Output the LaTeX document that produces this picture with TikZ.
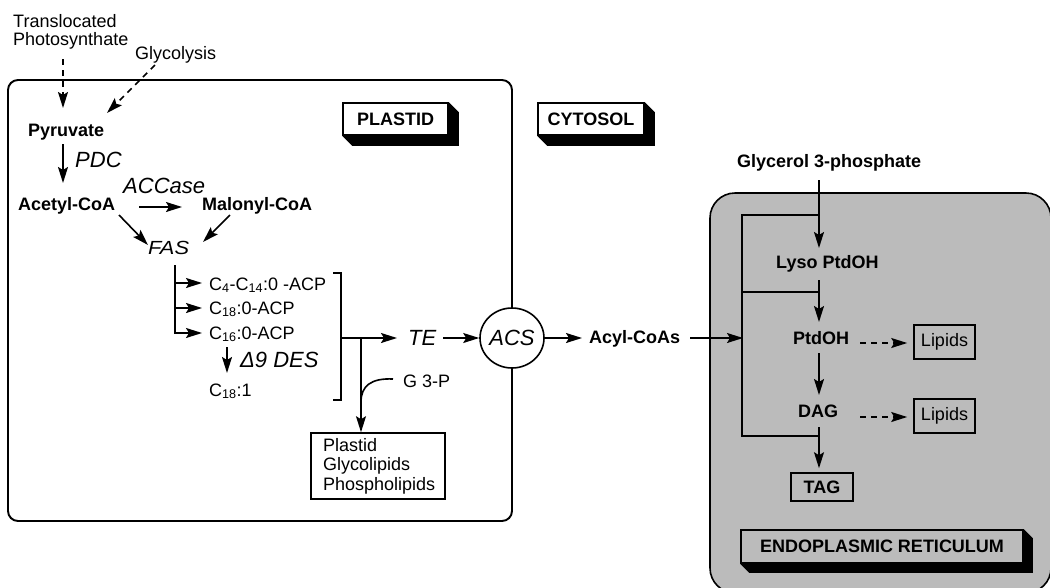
\documentclass[tikz,border=0pt]{standalone}
\usepackage{fontspec}
\setmainfont{Liberation Sans}
\usetikzlibrary{arrows.meta,calc,shapes.geometric}
\definecolor{erg}{RGB}{187,187,187}
\newcommand{\lf}{\fontsize{18}{19.5}\selectfont}
\newcommand{\ef}{\fontsize{22}{24}\selectfont\itshape}
\newcommand{\dropshadow}[2][10]{%
  \fill (#2.north east) -- ++(#1,#1) -- ($(#2.south east)+(#1,#1)$) --
        ($(#2.south west)+(#1,#1)$) -- (#2.south west) -- (#2.south east) -- cycle;}
\begin{document}
\begin{tikzpicture}[x=1pt,y=-1pt,
  lab/.style={inner sep=0pt, anchor=base west, font=\lf},
  blab/.style={inner sep=0pt, anchor=base west, font=\lf\bfseries},
  enz/.style={inner sep=0pt, anchor=base west, font=\ef},
  arr/.style={line width=1.6pt, -{Stealth[length=16pt,width=10pt,inset=3pt]}},
  darr/.style={arr, dash pattern=on 6pt off 5pt},
  ln/.style={line width=1.6pt},
  box/.style={draw, line width=1.6pt, font=\lf, inner sep=0pt},
  label3d/.style={draw, line width=1.6pt, font=\lf\bfseries, inner sep=0pt, minimum height=32pt}
]
\useasboundingbox (0,0) rectangle (1050,587);

% compartments
\draw[ln, fill=erg, rounded corners=25pt] (710,193) rectangle (1051,593);
\draw[line width=1.9pt, rounded corners=10pt] (8,80) rectangle (512,521);

% compartment labels
\node[label3d, fill=white, minimum width=105pt] (plastidlab) at (395.5,119) {PLASTID};
\dropshadow{plastidlab}
\node[label3d, fill=white, minimum width=106pt] (cytosollab) at (591,119) {CYTOSOL};
\dropshadow{cytosollab}
\node[label3d, fill=erg, minimum width=282pt, minimum height=33pt] (erlab) at (882,546.5) {ENDOPLASMIC RETICULUM};
\dropshadow[9]{erlab}

% plastid texts
\node[lab] (photoA) at (13,27) {Translocated};
\node[lab] (photoB) at (13,45) {Photosynthate};
\node[lab] (glyc) at (135,59) {Glycolysis};
\node[blab] (pyr) at (28,136) {Pyruvate};
\node[enz] (pdc) at (75,167) {PDC};
\node[blab] (acetyl) at (18,210) {Acetyl-CoA};
\node[enz] (accase) at (123,193) {ACCase};
\node[blab] (malonyl) at (202,210) {Malonyl-CoA};
\node[inner sep=0pt, anchor=base west, font=\fontsize{19}{20}\selectfont\itshape] (fas) at (148,254) {\scalebox{1.15}[1]{FAS}};
\node[lab] (c4) at (209,290) {C\textsubscript{4}-C\textsubscript{14}:0 -ACP};
\node[lab] (c18) at (209,314) {C\textsubscript{18}:0-ACP};
\node[lab] (c16) at (209,339) {C\textsubscript{16}:0-ACP};
\node[enz] (des) at (240,367) {Δ9 DES};
\node[lab] (c181) at (209,396) {C\textsubscript{18}:1};
\node[enz] (te) at (408,345) {TE};
\node[lab] (g3p) at (403,387) {G 3-P};
\node[box, minimum width=134pt, minimum height=66pt, text width=110pt, align=left] (pl) at (378,466) {Plastid\\Glycolipids\\Phospholipids};

% ACS on plastid envelope
\node[ellipse, draw, ln, fill=white, minimum width=64pt, minimum height=60pt, inner sep=0pt, font=\ef] (acs) at (512,338) {ACS};
\node[blab] (acyl) at (589,343) {Acyl-CoAs};

% ER texts
\node[blab] (glyc3) at (737,167) {Glycerol 3-phosphate};
\node[blab] (lyso) at (776,268) {Lyso PtdOH};
\node[blab] (ptdoh) at (793,344) {PtdOH};
\node[blab] (dag) at (798,417) {DAG};
\node[box, font=\lf\bfseries, minimum width=62pt, minimum height=28pt] (tag) at (822,487) {TAG};
\node[box, minimum width=61pt, minimum height=34pt] (lip1) at (944.5,342) {Lipids};
\node[box, minimum width=61pt, minimum height=34pt] (lip2) at (944.5,416) {Lipids};

% plastid connectors
\draw[darr] ($(photoB.base west)+(50,14)$) -- ($(pyr.base west)+(35,-28)$);
\draw[darr] ($(glyc.base west)+(20,6)$) -- ($(pyr.base west)+(79,-23)$);
\draw[arr] ($(pyr.base west)+(35,8)$) -- ($(acetyl.base west)+(45,-27)$);
\draw[arr] ($(acetyl.base west)+(121,-3)$) -- ($(malonyl.base west)+(-20,-3)$);
\draw[arr] ($(acetyl.base west)+(101,5)$) -- ($(fas.base west)+(0,-9)$);
\draw[arr] ($(malonyl.base west)+(28,5)$) -- ($(fas.base west)+(55,-12)$);
\draw[arr] ($(fas.base west)+(27,11)$) |- ($(c16.base west)+(-7,-6)$);
\draw[arr] ($(c4.base west)+(-34,-7)$) -- ($(c4.base west)+(-7,-7)$);
\draw[arr] ($(c18.base west)+(-34,-6)$) -- ($(c18.base west)+(-7,-6)$);
\draw[arr] ($(c16.base west)+(18,8)$) -- ($(c181.base west)+(18,-23)$);

% bracket and branch
\coordinate (brT) at (341,273);
\coordinate (brB) at (341,400);
\coordinate (brM) at (341,338);
\coordinate (brJ) at (361,338);
\draw[ln] ($(brT)+(-8,0)$) -- (brT) -- (brB) -- ($(brB)+(-8,0)$);
\draw[arr] (brM) -- ($(te.base west)+(-11,-7)$);
\draw[arr] (brJ) -- (brJ |- pl.north);
\draw[ln] ($(g3p.base west)+(-10,-8)$) .. controls +(-22,-1) and +(0,-16) .. ($(brJ)+(0,64)$);
\draw[arr] ($(te.base west)+(35,-7)$) -- (acs.west);
\draw[arr] (acs.east) -- ($(acyl.base west)+(-7,-5)$);

% ER connectors
\coordinate (erTop) at (742,215);
\coordinate (erMid) at (742,292);
\coordinate (erBot) at (742,436);
\coordinate (jx) at (819,0);
\draw[arr] ($(acyl.base west)+(101,-5)$) -- ($(erTop |- acs.east)+(1,0)$);
\draw[ln] (jx |- erTop) -- (erTop) -- (erBot) -- (jx |- erBot);
\draw[ln] (erMid) -- (jx |- erMid);
\draw[arr] ($(glyc3.base west)+(82,13)$) -- ($(lyso.base west)+(43,-20)$);
\draw[arr] ($(lyso.base west)+(43,12)$) -- ($(ptdoh.base west)+(26,-22)$);
\draw[arr] ($(ptdoh.base west)+(26,9)$) -- ($(dag.base west)+(21,-22)$);
\draw[arr] ($(dag.base west)+(21,10)$) -- ($(tag.north)+(-3,-4)$);
\draw[darr] ($(ptdoh.base west)+(67,-1)$) -- ($(lip1.west)+(-6,1)$);
\draw[darr] ($(dag.base west)+(62,0)$) -- ($(lip2.west)+(-6,1)$);
\end{tikzpicture}
\end{document}
